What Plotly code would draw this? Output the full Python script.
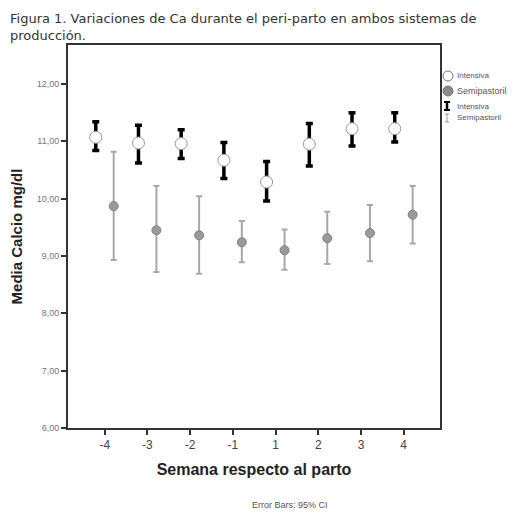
import plotly.graph_objects as go

weeks = ["-4", "-3", "-2", "-1", "1", "2", "3", "4"]
int_mean = [11.07, 10.97, 10.96, 10.67, 10.29, 10.95, 11.22, 11.22]
int_hi = [11.34, 11.28, 11.20, 10.98, 10.65, 11.31, 11.50, 11.50]
int_lo = [10.84, 10.62, 10.70, 10.35, 9.96, 10.57, 10.92, 10.99]
semi_mean = [9.87, 9.45, 9.36, 9.24, 9.10, 9.31, 9.40, 9.72]
semi_hi = [10.82, 10.22, 10.04, 9.61, 9.46, 9.77, 9.89, 10.22]
semi_lo = [8.93, 8.72, 8.69, 8.89, 8.76, 8.86, 8.91, 9.22]
yticks = [6, 7, 8, 9, 10, 11, 12]
legend_labels = ["Intensiva", "Semipastoril", "Intensiva", "Semipastoril"]

pos = list(range(len(weeks)))
off = 0.21
x_int = [p - off for p in pos]
x_semi = [p + off for p in pos]

# the page body adds an 8px margin; work in reference pixel coordinates
OFF = 8
W, H = 531 - OFF, 515 - OFF
L, R, T, B = 68 - OFF, 91, 45 - OFF, 87
pw, ph = W - L - R, H - T - B


def px(x):
    return (x - OFF - L) / pw


def py(y):
    return (H - B - (y - OFF)) / ph


fig = go.Figure()

fig.add_trace(go.Scatter(
    x=x_semi, y=semi_mean, mode="markers", name="Semipastoril", showlegend=False,
    marker=dict(size=9, color="#9a9a9a", line=dict(color="#808080", width=1)),
    error_y=dict(type="data", symmetric=False,
                 array=[h - m for h, m in zip(semi_hi, semi_mean)],
                 arrayminus=[m - l for m, l in zip(semi_mean, semi_lo)],
                 color="#a8a8a8", thickness=2, width=3),
))
fig.add_trace(go.Scatter(
    x=x_int, y=int_mean, mode="markers", name="Intensiva", showlegend=False,
    marker=dict(size=12, color="white", line=dict(color="#9a9a9a", width=1)),
    error_y=dict(type="data", symmetric=False,
                 array=[h - m for h, m in zip(int_hi, int_mean)],
                 arrayminus=[m - l for m, l in zip(int_mean, int_lo)],
                 color="black", thickness=3.5, width=3.5),
))

axis_line = dict(showline=True, linecolor="#333", linewidth=2, mirror=True,
                 ticks="outside", ticklen=5, tickcolor="#333", tickwidth=1.5,
                 showgrid=False, zeroline=False, automargin=False)

fig.update_layout(
    width=W, height=H,
    margin=dict(l=L, r=R, t=T, b=B, autoexpand=False),
    paper_bgcolor="white", plot_bgcolor="white",
    separators=",.",
    font=dict(family="Liberation Sans, Arial, sans-serif", color="#555"),
    xaxis=dict(**axis_line, range=[-0.86, 7.85], tickmode="array",
               tickvals=pos, ticktext=weeks, tickfont=dict(size=12, color="#444"),
               title=dict(text="Semana respecto al parto", standoff=12,
                          font=dict(size=16, color="#222", weight="bold"))),
    yaxis=dict(**axis_line, range=[6, 12.68], tickmode="array", tickvals=yticks,
               tickformat=".2f", tickfont=dict(size=9, color="#777"),
               title=dict(text="Media Calcio mg/dl", standoff=16,
                          font=dict(size=15, color="#222", weight="bold"))),
    showlegend=False,
)

# custom legend (right of the frame)
leg_y = [76, 91, 106, 118]
sx = 448
fig.add_shape(type="circle", xref="paper", yref="paper",
              x0=px(sx - 5), x1=px(sx + 5), y0=py(leg_y[0] + 5), y1=py(leg_y[0] - 5),
              fillcolor="white", line=dict(color="#777", width=1))
fig.add_shape(type="circle", xref="paper", yref="paper",
              x0=px(sx - 5), x1=px(sx + 5), y0=py(leg_y[1] + 5), y1=py(leg_y[1] - 5),
              fillcolor="#8a8a8a", line=dict(color="#777", width=1))
fig.add_shape(type="line", xref="paper", yref="paper",
              x0=px(sx - 1), x1=px(sx - 1), y0=py(leg_y[2] + 4), y1=py(leg_y[2] - 4),
              line=dict(color="black", width=2.5))
for dy in (-4, 4):
    fig.add_shape(type="line", xref="paper", yref="paper",
                  x0=px(sx - 4), x1=px(sx + 2), y0=py(leg_y[2] + dy), y1=py(leg_y[2] + dy),
                  line=dict(color="black", width=2))
fig.add_shape(type="line", xref="paper", yref="paper",
              x0=px(sx - 1), x1=px(sx - 1), y0=py(leg_y[3] + 4), y1=py(leg_y[3] - 4),
              line=dict(color="#999", width=1))
for dy in (-4, 4):
    fig.add_shape(type="line", xref="paper", yref="paper",
                  x0=px(sx - 3), x1=px(sx + 1), y0=py(leg_y[3] + dy), y1=py(leg_y[3] + dy),
                  line=dict(color="#999", width=1))
leg_sizes = [8, 9, 8, 8]
for lab, yy, fs in zip(legend_labels, leg_y, leg_sizes):
    fig.add_annotation(text=lab, xref="paper", yref="paper", x=px(455), y=py(yy),
                       xanchor="left", yanchor="middle", showarrow=False,
                       font=dict(size=fs, color="#555"))

fig.add_annotation(text="Figura 1. Variaciones de Ca durante el peri-parto en ambos sistemas de<br>producción.",
                   xref="paper", yref="paper", x=px(8), y=py(9), xanchor="left", yanchor="top",
                   align="left", showarrow=False,
                   font=dict(family="DejaVu Sans, Verdana, sans-serif", size=13, color="#333"))
fig.add_annotation(text="Error Bars: 95% CI", xref="paper", yref="paper",
                   x=px(290), y=py(505), xanchor="center", yanchor="middle", showarrow=False,
                   font=dict(size=9, color="#555"))

fig.write_html("out.html")
